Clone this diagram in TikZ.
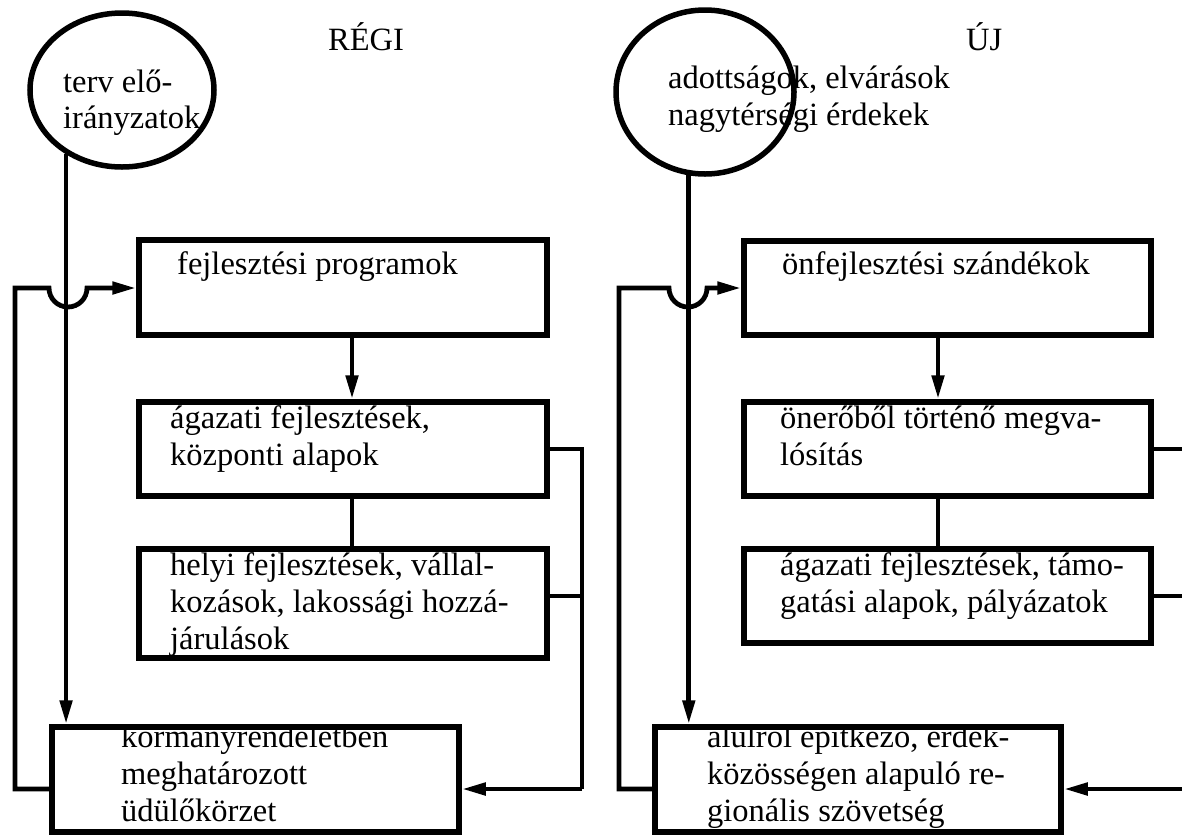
\documentclass[tikz,border=0pt]{standalone}
\usepackage{fontspec}
\setmainfont{Liberation Serif}
\usetikzlibrary{arrows.meta,shapes.geometric}
\begin{document}
\begin{tikzpicture}[x=1pt,y=-1pt,
  box/.style={draw, line width=5.5pt, rectangle, inner sep=0pt},
  circ/.style={draw, line width=5.5pt, ellipse, inner sep=0pt},
  conn/.style={line width=4.8pt},
  arr/.style={-{Triangle[length=24pt,width=12pt]}},
  txt/.style={anchor=base west, inner sep=0pt, font=\fontsize{32.5}{37}\selectfont}]
\useasboundingbox (0,0) rectangle (1182,839);

% ---------- left half (RÉGI) ----------
\node[txt] (tL) at (328,50) {RÉGI};
\node[circ, minimum width=184pt, minimum height=154pt] (C1) at (122,90) {};
\node[txt] (c1a) at (63,92) {terv elő-};
\node[txt] (c1b) at (63,128) {irányzatok};

\node[box, minimum width=408pt, minimum height=95pt] (L1) at (343,287.5) {};
\node[box, minimum width=408pt, minimum height=94pt] (L2) at (343,449) {};
\node[box, minimum width=408pt, minimum height=109pt] (L3) at (343,603.5) {};
\node[box, minimum width=407pt, minimum height=105pt] (L4) at (255.5,779.5) {};

\node[txt] (l1a) at (177,274) {fejlesztési programok};
\node[txt] (l2a) at (170,428) {ágazati fejlesztések,};
\node[txt] (l2b) at (170,465) {központi alapok};
\node[txt] (l3a) at (170,575) {helyi fejlesztések, vállal-};
\node[txt] (l3b) at (170,612) {kozások, lakossági hozzá-};
\node[txt] (l3c) at (170,649) {járulások};
\node[txt] (l4a) at (121,747) {kormányrendeletben};
\node[txt] (l4b) at (121,784) {meghatározott};
\node[txt] (l4c) at (121,821) {üdülőkörzet};

\coordinate (Lmid) at (352,0);
\coordinate (LfbB) at (15,789);
\coordinate (LfbT) at (15,288);
\coordinate (LjA) at (49,288);
\coordinate (Lr) at (582,0);
\coordinate (L3y) at (0,596);

\draw[conn,arr] (C1.229) -- (C1.229 |- L4.north);
\draw[conn,arr] (L4.west |- LfbB) -- (LfbB) -- (LfbT) -- (LjA)
  arc[start angle=180, end angle=360, radius=19pt] -- (L1.west |- LfbT);
\draw[conn,arr] (L1.south -| Lmid) -- (L2.north -| Lmid);
\draw[conn] (L2.south -| Lmid) -- (L3.north -| Lmid);
\draw[conn] (L2.east) -- (L2.east -| Lr) -- (Lr |- LfbB);
\draw[conn] (L3.east |- L3y) -- (Lr |- L3y);
\draw[conn,arr] (Lr |- LfbB) -- (L4.east |- LfbB);

% ---------- right half (ÚJ) ----------
\node[txt] (tR) at (966,50) {ÚJ};
\node[circ, minimum width=178pt, minimum height=164pt] (C2) at (705,92) {};
\node[txt] (c2a) at (668,88) {adottságok, elvárások};
\node[txt] (c2b) at (668,125) {nagytérségi érdekek};

\node[box, minimum width=407pt, minimum height=94pt] (R1) at (947.5,288) {};
\node[box, minimum width=407pt, minimum height=94pt] (R2) at (947.5,449) {};
\node[box, minimum width=407pt, minimum height=94pt] (R3) at (947.5,596) {};
\node[box, minimum width=406pt, minimum height=105pt] (R4) at (858,779.5) {};

\node[txt] (r1a) at (782,274) {önfejlesztési szándékok};
\node[txt] (r2a) at (780,428) {önerőből történő megva-};
\node[txt] (r2b) at (780,465) {lósítás};
\node[txt] (r3a) at (780,575) {ágazati fejlesztések, támo-};
\node[txt] (r3b) at (780,612) {gatási alapok, pályázatok};
\node[txt] (r4a) at (707,747) {alulról építkező, érdek-};
\node[txt] (r4b) at (707,784) {közösségen alapuló re-};
\node[txt] (r4c) at (707,821) {gionális szövetség};

\coordinate (Rmid) at (938,0);
\coordinate (RfbB) at (619,789);
\coordinate (RfbT) at (619,288);
\coordinate (RjA) at (669,288);
\coordinate (Rr) at (1192,0);

\draw[conn,arr] (C2.259) -- (C2.259 |- R4.north);
\draw[conn,arr] (R4.west |- RfbB) -- (RfbB) -- (RfbT) -- (RjA)
  arc[start angle=180, end angle=360, radius=19pt] -- (R1.west |- RfbT);
\draw[conn,arr] (R1.south -| Rmid) -- (R2.north -| Rmid);
\draw[conn] (R2.south -| Rmid) -- (R3.north -| Rmid);
\draw[conn] (R2.east) -- (R2.east -| Rr);
\draw[conn] (R3.east) -- (R3.east -| Rr);
\draw[conn,arr] (Rr |- RfbB) -- (R4.east |- RfbB);
\end{tikzpicture}
\end{document}
